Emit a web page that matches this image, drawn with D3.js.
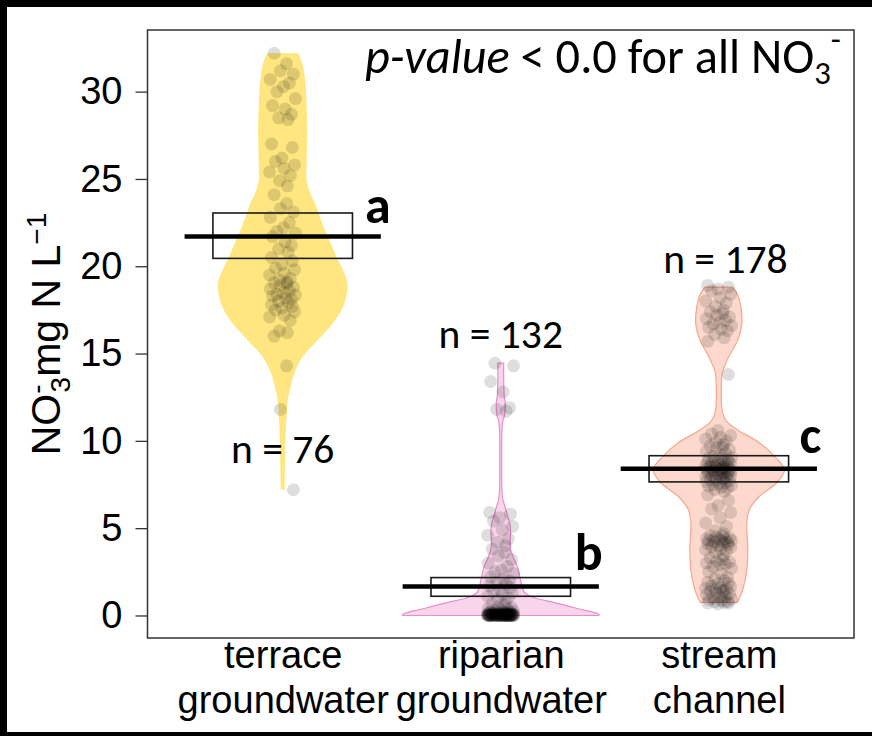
<!DOCTYPE html>
<html>
<head>
<meta charset="utf-8">
<script src="https://cdn.jsdelivr.net/npm/d3@7"></script>
<style>
  html, body { margin: 0; padding: 0; background: #fff; }
  svg { display: block; }
</style>
</head>
<body>
<script>
// ---- data ----
const categories = ["terrace groundwater", "riparian groundwater", "stream channel"];
const categoryLines = [["terrace", "groundwater"], ["riparian", "groundwater"], ["stream", "channel"]];
const nCounts = [76, 132, 178];
const groupLetters = ["a", "b", "c"];
const meanValues = [21.7, 1.66, 8.4];
const boxLow = [20.45, 1.1, 7.65];
const boxHigh = [23.05, 2.17, 9.15];
const yTicks = [0, 5, 10, 15, 20, 25, 30];

// violin outlines: [NO3 mg N/L, relative density]
const terraceDensity = [
  [32.2, .16], [31.6, .20], [30.6, .23], [29.0, .245], [27.8, .25], [26.0, .245], [24.9, .245],
  [24.2, .28], [23.6, .33], [22.8, .38], [22.06, .43], [21.3, .49], [20.5, .55], [19.7, .62],
  [19.0, .66], [18.3, .65], [17.5, .60], [16.8, .52], [16.2, .43], [15.6, .33], [15.0, .23],
  [14.4, .16], [13.9, .12], [13.1, .08], [12.3, .05], [11.4, .04], [10.5, .03], [9.0, .025],
  [7.4, .02], [7.2, .02]
];
const riparianDensity = [
  [14.45, .03], [13.5, .03], [12.6, .035], [12.2, .045], [11.5, .04], [11.1, .02], [10.6, .012],
  [9.0, .01], [7.2, .012], [6.7, .02], [6.2, .045], [5.7, .07], [5.2, .095], [4.7, .10],
  [4.2, .095], [3.8, .10], [3.3, .13], [2.8, .17], [2.2, .195], [1.6, .22], [1.3, .245],
  [1.0, .35], [0.74, .55], [0.4, .78], [0.06, 1.0], [0.0, 1.0]
];
const streamDensity = [
  [18.8, .14], [18.4, .19], [17.66, .225], [16.7, .235], [15.8, .195], [15.2, .14], [14.8, .10],
  [14.3, .06], [13.9, .035], [12.9, .025], [11.9, .03], [11.4, .05], [11.0, .10], [10.6, .20],
  [9.9, .41], [9.1, .57], [8.34, .67], [7.6, .59], [6.8, .41], [6.06, .31], [5.3, .285],
  [4.5, .29], [3.9, .295], [2.6, .285], [1.5, .245], [0.75, .19]
];

// individual samples (NO3 mg N/L)
const terraceValues = [
  32.2, 31.6, 31.2, 31.0, 30.7, 30.5, 30.3, 30.0, 29.6, 29.2, 29.0, 28.7, 28.5, 28.4, 27.0, 26.8,
  26.2, 26.0, 25.8, 25.6, 25.4, 25.2, 24.9, 24.6, 24.1, 23.6, 23.3, 23.1, 22.8, 22.5, 22.2, 22.0,
  21.9, 21.7, 21.4, 21.2, 21.0, 20.8, 20.5, 20.3, 20.1, 19.9, 19.8, 19.6, 19.5, 19.3, 19.2, 19.1,
  19.05, 19.0, 18.9, 18.8, 18.7, 18.6, 18.5, 18.4, 18.35, 18.3, 18.2, 18.1, 18.0, 17.9, 17.8, 17.7,
  17.6, 17.5, 17.4, 17.2, 17.1, 16.9, 16.3, 16.2, 16.0, 14.3, 11.8, 7.2
];
const riparianValues = [
  14.45, 14.3, 13.4, 12.8, 11.9, 11.8, 11.7,
  5.9, 5.8, 5.6, 5.4, 5.1, 4.9, 4.6, 4.4, 4.2, 4.0, 3.8, 3.6, 3.4, 3.2, 3.0, 2.8, 2.6, 2.5,
  2.4, 2.2, 2.1, 2.0, 1.9, 1.8, 1.7, 1.6, 1.5, 1.4, 1.3, 1.2, 1.1, 1.0, 0.9, 0.8, 0.7, 0.6,
  0.5, 0.45, 0.4, 0.35,
  0.3, 0.28, 0.25, 0.22, 0.2, 0.2, 0.18, 0.17, 0.15, 0.15, 0.14, 0.13, 0.12, 0.12, 0.11, 0.1,
  0.1, 0.1, 0.09, 0.09, 0.08, 0.08, 0.08, 0.07, 0.07, 0.07, 0.06, 0.06, 0.06, 0.05, 0.05, 0.05,
  0.05, 0.04, 0.04, 0.04, 0.04, 0.03, 0.03, 0.03, 0.03, 0.03, 0.02, 0.02, 0.02, 0.02, 0.02, 0.02,
  0.01, 0.01, 0.01, 0.01, 0.01, 0.01, 0.01, 0.0, 0.0, 0.0, 0.0, 0.0, 0.0, 0.0, 0.0, 0.0,
  0.0, 0.0, 0.0, 0.0, 0.0, 0.0, 0.0, 0.0, 0.0, 0.0, 0.0, 0.0, 0.0, 0.0, 0.0, 0.0, 0.0, 0.0
];
const streamValues = [
  18.9, 18.8, 18.7, 18.6, 18.4, 18.2, 18.0, 17.9, 17.7, 17.5, 17.4, 17.3, 17.2, 17.1, 17.0, 16.9,
  16.8, 16.7, 16.6, 16.5, 16.4, 16.3, 16.1, 15.9, 15.7, 13.8,
  10.6, 10.4, 10.3, 10.2, 10.1, 10.0, 9.9, 9.8, 9.7, 9.6, 9.6, 9.5, 9.4, 9.3, 9.2, 9.1,
  9.05, 9.0, 8.95, 8.92, 8.9, 8.85, 8.8, 8.8, 8.75, 8.7, 8.7, 8.65, 8.6, 8.6, 8.55, 8.5, 8.5,
  8.48, 8.45, 8.4, 8.4, 8.38, 8.35, 8.3, 8.3, 8.28, 8.25, 8.2, 8.2, 8.18, 8.15, 8.1, 8.1, 8.05,
  8.0, 8.0, 7.96, 7.92, 7.9, 7.85, 7.8, 7.8, 7.75, 7.7, 7.65, 7.6, 7.55, 7.5, 7.45, 7.4, 7.35,
  7.3, 7.2, 7.1,
  6.9, 6.6, 6.3, 6.1, 5.9, 5.6, 5.3, 5.1,
  4.85, 4.7, 4.6, 4.55, 4.5, 4.45, 4.4, 4.38, 4.35, 4.3, 4.3, 4.28, 4.25, 4.2, 4.2, 4.15, 4.1,
  4.05, 4.0, 3.95, 3.9, 3.8, 3.75, 3.7, 3.6,
  3.45, 3.3, 3.2, 3.1, 3.05, 3.0, 2.95, 2.9, 2.8, 2.7, 2.5, 2.4,
  2.2, 2.1, 2.0, 1.9, 1.85, 1.8, 1.7, 1.65, 1.6, 1.55, 1.5, 1.5, 1.45, 1.4, 1.35, 1.3, 1.25,
  1.2, 1.1, 1.05, 1.0, 0.95, 0.9, 0.85, 0.8, 0.78, 0.75, 0.72, 0.7, 0.66
];

const densities = [terraceDensity, riparianDensity, streamDensity];
const samples = [terraceValues, riparianValues, streamValues];

// ---- look ----
const fills = ["#ffe680", "#f8d5eb", "#fcd9cc"];
const strokes = ["none", "#e890cc", "#f5a88e"];
// fixed horizontal jitter cycle, in category units
const jitterCycle = [-0.046, 0.021, -0.012, 0.058, -0.067, 0.036, 0.004, -0.031, 0.069, -0.055,
  0.013, 0.047, -0.022, 0.029, -0.06, 0.052, -0.004, -0.039, 0.064, 0.008, -0.071, 0.041, -0.017, 0.025];
const jitterScale = 0.85;

const W = 872, H = 736;
const plot = { left: 147.5, right: 854, top: 30, bottom: 638 };
const axisFont = "'Liberation Sans', Arial, sans-serif";
const noteFont = "Carlito, Lato, 'Open Sans', sans-serif";

const svg = d3.select("body").append("svg")
  .attr("width", W)
  .attr("height", H);

// black picture border (top, left, bottom)
svg.append("rect").attr("width", W).attr("height", H).attr("fill", "#000");
svg.append("rect").attr("x", 7).attr("y", 7).attr("width", W - 7).attr("height", 725).attr("fill", "#fff");

const x = d3.scaleLinear().domain([0.38, 3.62]).range([plot.left, plot.right]);
const y = d3.scaleLinear().domain([-1.29, 33.53]).range([plot.bottom, plot.top]);
const w = d3.scaleLinear().domain([0, 1]).range([0, x(1.45) - x(1)]);

const g = svg.append("g");

// violins
densities.forEach((dens, i) => {
  const cx = x(i + 1);
  const area = d3.area()
    .y(d => y(d[0]))
    .x0(d => cx - w(d[1]))
    .x1(d => cx + w(d[1]))
    .curve(d3.curveCatmullRom.alpha(0.5));
  g.append("path")
    .attr("d", area(dens))
    .attr("fill", fills[i])
    .attr("stroke", strokes[i])
    .attr("stroke-width", 1.2);
});

// jittered points
samples.forEach((vals, i) => {
  g.append("g").selectAll("circle")
    .data(vals)
    .join("circle")
    .attr("cx", (d, k) => x(i + 1 + jitterScale * jitterCycle[(k + i * 7) % jitterCycle.length]))
    .attr("cy", d => y(d))
    .attr("r", 6.5)
    .attr("fill", "#000")
    .attr("fill-opacity", 0.13);
});

// boxes and mean lines
categories.forEach((c, i) => {
  g.append("rect")
    .attr("x", x(i + 1 - 0.32))
    .attr("width", x(1.64) - x(1))
    .attr("y", y(boxHigh[i]))
    .attr("height", y(boxLow[i]) - y(boxHigh[i]))
    .attr("fill", "none")
    .attr("stroke", "#1a1a1a")
    .attr("stroke-width", 1.6);
  g.append("line")
    .attr("x1", x(i + 1 - 0.45))
    .attr("x2", x(i + 1 + 0.45))
    .attr("y1", y(meanValues[i]))
    .attr("y2", y(meanValues[i]))
    .attr("stroke", "#000")
    .attr("stroke-width", 4.5);
});

// frame
svg.append("rect")
  .attr("x", plot.left).attr("y", plot.top)
  .attr("width", plot.right - plot.left)
  .attr("height", plot.bottom - plot.top)
  .attr("fill", "none")
  .attr("stroke", "#333")
  .attr("stroke-width", 1.5);

// y axis
const yAxis = svg.append("g")
  .attr("transform", `translate(${plot.left},0)`)
  .call(d3.axisLeft(y).tickValues(yTicks).tickSize(12).tickPadding(13));
yAxis.select(".domain").remove();
yAxis.selectAll("line").attr("stroke", "#333").attr("stroke-width", 1.3);
yAxis.selectAll("text")
  .attr("font-family", axisFont)
  .attr("font-size", 38)
  .attr("fill", "#000");

// x axis labels (two lines)
const xAxis = svg.append("g")
  .attr("transform", `translate(0,${plot.bottom})`)
  .call(d3.axisBottom(x).tickValues([1, 2, 3]).tickSize(0).tickFormat(""));
xAxis.select(".domain").remove();
xAxis.selectAll(".tick").append("text")
  .attr("text-anchor", "middle")
  .attr("font-family", axisFont)
  .attr("font-size", 38)
  .attr("fill", "#000")
  .selectAll("tspan")
  .data((d, i) => categoryLines[i])
  .join("tspan")
  .attr("x", 0)
  .attr("y", (d, k) => 30 + k * 45)
  .text(d => d);

// y title
const yTitle = svg.append("text")
  .attr("transform", "translate(60,334) rotate(-90)")
  .attr("text-anchor", "middle")
  .attr("font-family", axisFont)
  .attr("font-size", 41)
  .attr("fill", "#000");
yTitle.append("tspan").text("NO");
yTitle.append("tspan").attr("font-size", 28).attr("dy", -14).text("-");
yTitle.append("tspan").attr("font-size", 28).attr("dx", -8).attr("dy", 24).text("3");
yTitle.append("tspan").attr("dy", -10).text("mg N L");
yTitle.append("tspan").attr("font-size", 28).attr("dy", -14).text("\u22121");

// sample counts
const nLabelAt = [[1, 8.74], [2, 15.3], [3.03, 19.6]];
nCounts.forEach((n, i) => {
  svg.append("text")
    .attr("x", x(nLabelAt[i][0]))
    .attr("y", y(nLabelAt[i][1]))
    .attr("text-anchor", "middle")
    .attr("font-family", noteFont)
    .attr("font-size", 41.5)
    .attr("fill", "#000")
    .text(`n = ${n}`);
});

// group letters
const letterAt = [[1.377, 22.46], [2.339, 2.63], [3.37, 9.31]];
groupLetters.forEach((l, i) => {
  svg.append("text")
    .attr("x", x(letterAt[i][0]))
    .attr("y", y(letterAt[i][1]))
    .attr("font-family", noteFont)
    .attr("font-weight", "bold")
    .attr("font-size", 52)
    .attr("fill", "#000")
    .text(l);
});

// p-value note, sized to span the same width as the original
const note = svg.append("text")
  .attr("x", 365)
  .attr("y", 73)
  .attr("font-family", noteFont)
  .attr("font-size", 34)
  .attr("fill", "#000");
note.append("tspan").attr("font-style", "italic").text("p-value");
note.append("tspan").text(" < 0.0 for all NO");
const sub = note.append("tspan").attr("font-size", 23).attr("dy", 8).text("3");
const sup = note.append("tspan").attr("font-size", 23).attr("dy", -24).text("-");
const noteW = note.node().getBBox().width;
const k = 476 / noteW;
note.attr("font-size", 34 * k);
sub.attr("font-size", 23 * k).attr("dy", 8 * k);
sup.attr("font-size", 23 * k).attr("dy", -24 * k);
</script>
</body>
</html>
